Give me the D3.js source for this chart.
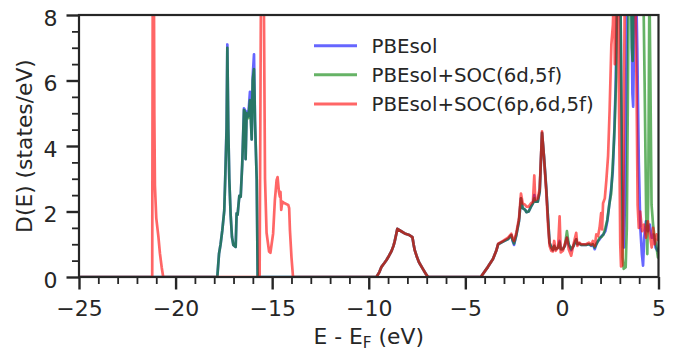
<!DOCTYPE html>
<html><head><meta charset="utf-8">
<script src="https://cdn.jsdelivr.net/npm/d3@7"></script>
<style>
body{margin:0;background:#fff}
svg{display:block}
text{font-family:"DejaVu Sans",sans-serif;fill:#262626}
</style>
</head><body>
<svg id="c" width="684" height="354"></svg>
<script>
// ---- data ----
const xTicks = [-25, -20, -15, -10, -5, 0, 5];
const yTicks = [0, 2, 4, 6, 8];
const seriesNames = ["PBEsol", "PBEsol+SOC(6d,5f)", "PBEsol+SOC(6p,6d,5f)"];
const seriesColors = ["#0000ff", "#008000", "#ff0000"];

// PBEsol  [E - EF (eV), D(E)]
const pbesolDOS = [
 [-25,0],[-17.84,0],[-17.75,0.72],[-17.67,1.0],[-17.58,1.43],[-17.48,2.03],[-17.43,3.0],[-17.36,4.6],[-17.32,7.1],
 [-17.27,4.5],[-17.22,3.0],[-17.15,1.9],[-17.08,1.22],[-17.01,0.98],[-16.89,0.92],[-16.84,1.94],[-16.79,1.9],
 [-16.70,2.48],[-16.63,2.45],[-16.55,3.44],[-16.46,5.15],[-16.41,5.1],[-16.375,3.6],[-16.32,5.05],[-16.24,4.9],
 [-16.15,5.65],[-16.06,4.2],[-16.01,6.1],[-15.94,6.8],[-15.89,4.8],[-15.80,2.96],[-15.75,0],
 [-9.6,0],[-9.45,0.15],[-9.34,0.31],[-9.2,0.42],[-9.08,0.52],[-8.95,0.65],[-8.83,0.78],[-8.72,0.95],[-8.66,1.08],
 [-8.58,1.3],[-8.52,1.47],[-8.3,1.39],[-8.14,1.33],[-7.9,1.28],[-7.74,1.22],[-7.68,1.0],[-7.62,0.82],[-7.5,0.6],
 [-7.4,0.45],[-7.2,0.25],[-7.05,0.1],[-6.93,0],
 [-4.2,0],[-3.83,0.31],[-3.57,0.55],[-3.4,0.8],[-3.3,1.0],[-3.05,1.08],[-2.79,1.16],[-2.62,1.28],[-2.55,1.1],
 [-2.48,0.98],[-2.36,1.28],[-2.22,1.72],[-2.12,2.4],[-2.03,2.1],[-1.9,2.05],[-1.84,1.98],[-1.72,2.0],[-1.6,2.15],
 [-1.5,2.25],[-1.43,2.5],[-1.38,2.3],[-1.25,2.3],[-1.15,2.6],[-1.03,4.4],[-0.93,3.7],[-0.81,2.7],[-0.72,1.8],
 [-0.64,1.05],[-0.55,0.9],[-0.47,0.82],[-0.4,0.95],[-0.32,0.85],[-0.2,0.9],[-0.12,1.1],[-0.06,0.85],[0.05,0.85],
 [0.15,0.95],[0.26,1.2],[0.35,1.0],[0.48,0.82],[0.6,0.95],[0.74,1.15],[0.8,1.0],[0.9,1.02],[1.0,0.98],[1.25,0.98],
 [1.4,1.0],[1.52,0.95],[1.6,1.0],[1.7,0.85],[1.78,1.0],[1.87,1.1],[1.95,1.15],[2.05,1.25],[2.15,1.3],[2.25,1.4],
 [2.35,1.7],[2.45,2.2],[2.55,2.7],[2.63,3.2],[2.7,4.2],[2.78,5.8],[2.86,8.5],[2.95,10],[3.02,9],[3.1,4],[3.16,1.4],
 [3.21,0.9],[3.27,2.5],[3.33,6],[3.4,9.5],[3.5,10],[3.6,8.5],[3.65,5.6],[3.69,5.2],[3.75,8],[3.82,9.5],[3.9,7],
 [3.98,3.5],[4.06,1.5],[4.14,0.7],[4.2,0.35],[4.26,1.2],[4.35,1.7],[4.45,1.4],[4.55,1.6],[4.65,1.2],[4.75,1.3],
 [4.85,0.9],[4.95,0.8],[5,0.8]
];

// PBEsol+SOC(6d,5f)
const soc6d5fDOS = [
 [-25,0],[-17.84,0],[-17.75,0.72],[-17.67,1.0],[-17.58,1.43],[-17.48,2.03],[-17.43,3.0],[-17.36,4.5],[-17.32,7.0],
 [-17.27,4.5],[-17.22,3.0],[-17.15,1.9],[-17.08,1.22],[-17.01,0.98],[-16.89,0.92],[-16.84,1.94],[-16.79,1.9],
 [-16.70,2.48],[-16.63,2.45],[-16.55,3.44],[-16.46,5.1],[-16.41,5.05],[-16.375,3.6],[-16.32,5.0],[-16.24,4.85],
 [-16.15,5.4],[-16.06,4.2],[-16.01,6.0],[-15.94,6.35],[-15.89,4.8],[-15.80,2.96],[-15.75,0],
 [-9.6,0],[-9.45,0.15],[-9.34,0.31],[-9.2,0.42],[-9.08,0.52],[-8.95,0.65],[-8.83,0.78],[-8.72,0.95],[-8.66,1.08],
 [-8.58,1.3],[-8.52,1.47],[-8.3,1.39],[-8.14,1.33],[-7.9,1.28],[-7.74,1.22],[-7.68,1.0],[-7.62,0.82],[-7.5,0.6],
 [-7.4,0.45],[-7.2,0.25],[-7.05,0.1],[-6.93,0],
 [-4.2,0],[-3.83,0.31],[-3.57,0.55],[-3.4,0.8],[-3.3,1.0],[-3.05,1.08],[-2.79,1.16],[-2.62,1.28],[-2.55,1.12],
 [-2.48,1.02],[-2.36,1.28],[-2.22,1.72],[-2.12,2.4],[-2.03,2.1],[-1.9,2.05],[-1.84,1.98],[-1.72,2.0],[-1.6,2.15],
 [-1.5,2.25],[-1.43,2.4],[-1.38,2.3],[-1.25,2.3],[-1.15,2.6],[-1.03,4.4],[-0.93,3.7],[-0.81,2.7],[-0.72,1.8],
 [-0.64,1.05],[-0.55,0.9],[-0.47,0.82],[-0.4,0.95],[-0.32,0.85],[-0.2,0.9],[-0.12,1.05],[-0.06,0.85],[0.05,0.85],
 [0.15,0.95],[0.26,1.4],[0.35,1.0],[0.48,0.85],[0.6,0.95],[0.74,1.15],[0.8,1.0],[0.9,1.02],[1.0,0.98],[1.25,0.98],
 [1.4,1.0],[1.52,0.97],[1.6,1.0],[1.7,0.9],[1.78,1.0],[1.87,1.1],[1.95,1.2],[2.05,1.22],[2.15,1.3],[2.25,1.5],
 [2.35,1.75],[2.45,2.2],[2.55,2.55],[2.64,3.5],[2.73,4.6],[2.81,6.1],[2.86,9],[2.95,10],[3.04,8],[3.1,4],
 [3.14,0.6],[3.2,0.25],[3.3,0.3],[3.36,1.5],[3.42,6],[3.47,10],[3.55,10],[3.62,7],[3.66,6.6],[3.72,8.5],[3.8,10],
 [3.9,10],[4.0,9],[4.1,9],[4.2,9.5],[4.28,6],[4.36,2.0],[4.42,0.7],[4.47,2.5],[4.53,9],[4.58,6],[4.64,2.2],[4.72,1.6],
 [4.8,1.2],[4.9,0.9],[4.97,0.6],[5,0.7]
];

// PBEsol+SOC(6p,6d,5f)
const soc6p6d5fDOS = [
 [-25,0],[-21.21,0],[-21.16,16],[-21.1,5],[-21.07,2.8],[-21.0,1.8],[-20.89,1.23],[-20.81,0.72],[-20.72,0.3],[-20.64,0],
 [-15.65,0],[-15.57,10],[-15.5,14],[-15.43,8.5],[-15.37,3.0],[-15.29,1.35],[-15.16,0.78],[-15.09,0.74],[-14.95,1.33],
 [-14.86,2.35],[-14.77,2.96],[-14.72,3.05],[-14.65,2.6],[-14.6,2.45],[-14.57,2.6],[-14.53,2.05],[-14.48,2.3],
 [-14.35,2.25],[-14.17,2.2],[-14.12,2.1],[-14.08,1.43],[-14.0,0.6],[-13.92,0],
 [-9.6,0],[-9.45,0.15],[-9.34,0.31],[-9.2,0.42],[-9.08,0.52],[-8.95,0.65],[-8.83,0.78],[-8.72,0.95],[-8.66,1.08],
 [-8.58,1.3],[-8.52,1.47],[-8.3,1.39],[-8.14,1.33],[-7.9,1.28],[-7.74,1.22],[-7.68,1.0],[-7.62,0.82],[-7.5,0.6],
 [-7.4,0.45],[-7.2,0.25],[-7.05,0.1],[-6.93,0],
 [-4.2,0],[-3.83,0.31],[-3.57,0.55],[-3.4,0.8],[-3.3,1.02],[-3.05,1.1],[-2.79,1.2],[-2.62,1.32],[-2.55,1.18],
 [-2.48,1.1],[-2.36,1.35],[-2.22,1.8],[-2.12,2.55],[-2.03,2.25],[-1.9,2.2],[-1.84,2.15],[-1.72,2.15],[-1.6,2.25],
 [-1.5,2.3],[-1.43,3.1],[-1.38,2.35],[-1.25,2.4],[-1.15,2.7],[-1.03,4.45],[-0.93,3.65],[-0.81,2.6],[-0.72,1.6],
 [-0.64,0.95],[-0.55,0.8],[-0.47,0.78],[-0.4,1.1],[-0.32,0.8],[-0.2,0.9],[-0.12,1.85],[-0.06,0.75],[0.05,0.8],
 [0.15,1.0],[0.26,1.2],[0.35,0.85],[0.48,0.65],[0.6,1.0],[0.74,1.35],[0.8,0.95],[0.9,1.05],[1.0,1.0],[1.25,1.0],
 [1.4,1.05],[1.52,0.98],[1.6,1.1],[1.7,0.95],[1.78,1.3],[1.87,1.25],[1.95,1.5],[2.03,1.95],[2.08,1.45],[2.13,2.25],
 [2.22,2.4],[2.3,2.95],[2.39,3.7],[2.47,5.1],[2.56,7.1],[2.64,7.7],[2.7,9],[2.74,6.5],[2.8,10],[2.9,10],[2.96,5],
 [3.02,1.0],[3.06,0.32],[3.12,0.35],[3.17,1.5],[3.22,6],[3.27,10],[3.4,10],[3.55,10],[3.7,10],[3.8,9],[3.86,6],
 [3.92,2.2],[3.98,1.5],[4.05,2.0],[4.15,1.4],[4.25,1.6],[4.35,1.2],[4.45,1.7],[4.55,1.3],[4.65,0.9],[4.72,1.5],
 [4.8,1.0],[4.9,1.3],[5,1.1]
];

const seriesData = [pbesolDOS, soc6d5fDOS, soc6p6d5fDOS];

// ---- layout ----
const L = 79, R = 658.5, T = 15, B = 277;
const ink = "#262626";
const svg = d3.select("#c");
const x = d3.scaleLinear().domain([-25, 5]).range([L, R]);
const y = d3.scaleLinear().domain([0, 8]).range([B, T]);

svg.append("defs").append("clipPath").attr("id", "clip")
  .append("rect").attr("x", L).attr("y", T).attr("width", R - L).attr("height", B - T);

// lines
const line = d3.line().x(d => x(d[0])).y(d => y(d[1]));
const g = svg.append("g").attr("clip-path", "url(#clip)");
seriesData.forEach((data, i) => {
  g.append("path").datum(data).attr("d", line)
    .attr("fill", "none").attr("stroke", seriesColors[i]).attr("stroke-opacity", 0.6)
    .attr("stroke-width", 2.7).attr("stroke-linejoin", "round");
});

// axes
function styleAxis(sel, w) {
  sel.select(".domain").remove();
  sel.selectAll(".tick line").attr("stroke", ink).attr("stroke-width", w);
  sel.selectAll(".tick text").style("font-size", "22px").attr("fill", ink);
}
const xMinor = d3.range(-25, 5.001, 1).filter(v => !xTicks.includes(v));
const yMinor = d3.range(0, 8.001, 0.5).filter(v => !yTicks.includes(v));

svg.append("g").attr("transform", `translate(0,${B})`)
  .call(d3.axisBottom(x).tickValues(xMinor).tickSize(7).tickFormat(""))
  .call(s => styleAxis(s, 1.8));
svg.append("g").attr("transform", `translate(0,${B})`)
  .call(d3.axisBottom(x).tickValues(xTicks).tickSize(12.5).tickPadding(10.4).tickFormat(d3.format("d")))
  .call(s => styleAxis(s, 2.4));
svg.append("g").attr("transform", `translate(${L},0)`)
  .call(d3.axisLeft(y).tickValues(yMinor).tickSize(7).tickFormat(""))
  .call(s => styleAxis(s, 1.8));
svg.append("g").attr("transform", `translate(${L},0)`)
  .call(d3.axisLeft(y).tickValues(yTicks).tickSize(12.5).tickPadding(9).tickFormat(d3.format("d")))
  .call(s => styleAxis(s, 2.4))
  .call(s => s.selectAll(".tick text").attr("dy", "10px"));

// frame
svg.append("rect").attr("x", L).attr("y", T).attr("width", R - L).attr("height", B - T)
  .attr("fill", "none").attr("stroke", ink).attr("stroke-width", 2.2);

// axis labels
const xl = svg.append("text").attr("x", (L + R) / 2).attr("y", 343.5).attr("text-anchor", "middle")
  .style("font-size", "21.8px");
xl.append("tspan").text("E - E");
xl.append("tspan").attr("dy", 4).style("font-size", "15.3px").text("F");
xl.append("tspan").attr("dy", -4).text(" (eV)");

svg.append("text").attr("transform", `translate(31.5,${(T + B) / 2}) rotate(-90)`)
  .attr("text-anchor", "middle").style("font-size", "21.8px").text("D(E) (states/eV)");

// legend
const legY = [45.7, 74.8, 104];
seriesNames.forEach((name, i) => {
  svg.append("line").attr("x1", 314).attr("x2", 357).attr("y1", legY[i]).attr("y2", legY[i])
    .attr("stroke", seriesColors[i]).attr("stroke-opacity", 0.6).attr("stroke-width", 3);
  svg.append("text").attr("x", 371.5).attr("y", legY[i] + 7).style("font-size", "19.8px").text(name);
});
</script>
</body></html>
